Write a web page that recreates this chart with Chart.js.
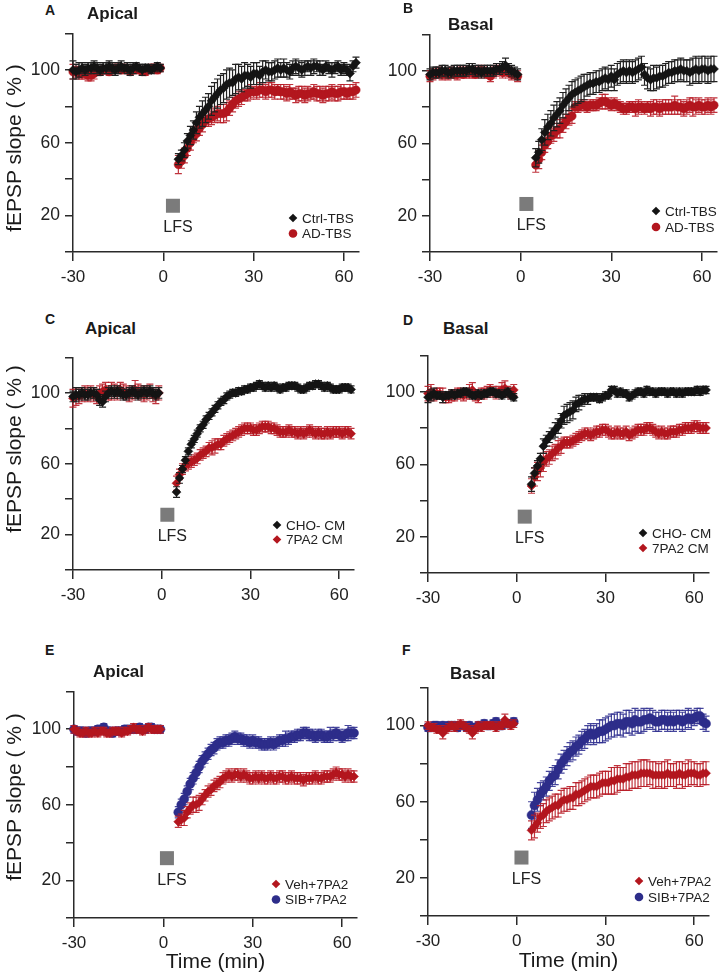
<!DOCTYPE html>
<html>
<head>
<meta charset="utf-8">
<script src="https://cdn.jsdelivr.net/npm/chart.js@4.4.1/dist/chart.umd.min.js"></script>
<style>
body { margin: 0; background: #fff; }
#fig { position: relative; width: 719px; height: 976px; overflow: hidden; font-family: "Liberation Sans", Arial, sans-serif; color: #1a1a1a; }
#fig canvas { position: absolute; }
.tag { position: absolute; font-weight: bold; font-size: 14px; line-height: 1; }
.sub { position: absolute; font-weight: bold; font-size: 17px; line-height: 1; }
.ytitle { position: absolute; font-size: 21px; line-height: 1; white-space: nowrap; transform: translate(-50%, -50%) rotate(-90deg); }
</style>
</head>
<body>
<div id="fig">
  <canvas id="pA" width="366" height="274" style="left:3px;top:18px"></canvas>
  <canvas id="pB" width="367" height="273" style="left:360px;top:19px"></canvas>
  <canvas id="pC" width="361" height="268" style="left:3px;top:342px"></canvas>
  <canvas id="pD" width="361" height="273" style="left:358px;top:340px"></canvas>
  <canvas id="pE" width="363" height="299" style="left:4px;top:676px"></canvas>
  <canvas id="pF" width="361" height="302" style="left:358px;top:672px"></canvas>

  <div class="tag" style="left:45px;top:3px">A</div>
  <div class="sub" style="left:87px;top:5px">Apical</div>
  <div class="tag" style="left:403px;top:1px">B</div>
  <div class="sub" style="left:448px;top:16px">Basal</div>
  <div class="tag" style="left:45px;top:312px">C</div>
  <div class="sub" style="left:85px;top:320px">Apical</div>
  <div class="tag" style="left:403px;top:313px">D</div>
  <div class="sub" style="left:443px;top:320px">Basal</div>
  <div class="tag" style="left:45px;top:643px">E</div>
  <div class="sub" style="left:93px;top:663px">Apical</div>
  <div class="tag" style="left:402px;top:643px">F</div>
  <div class="sub" style="left:450px;top:665px">Basal</div>

  <div class="ytitle" style="left:13px;top:148px">fEPSP slope ( % )</div>
  <div class="ytitle" style="left:13px;top:449px">fEPSP slope ( % )</div>
  <div class="ytitle" style="left:13px;top:797px">fEPSP slope ( % )</div>
</div>
<script>
// time points (min): baseline, then after LFS
const times = [-30,-29,-28,-27,-26,-25,-24,-23,-22,-21, -20,-19,-18,-17,-16,-15,-14,-13,-12,-11, -10,-9,-8,-7,-6,-5,-4,-3,-2,-1,
  5,6,7,8,9,10,11,12,13,14, 15,16,17,18,19,20,21,22,23,24, 25,26,27,28,29,30,31,32,33,34,
  35,36,37,38,39,40,41,42,43,44, 45,46,47,48,49,50,51,52,53,54, 55,56,57,58,59,60,61,62,63,64];

const xTicks = [-30, 0, 30, 60];
const yTickLabels = [20, 60, 100];

// A - apical
const aCtrl = [100,99,100,101,100,101,101,102,101,100, 101,101,102,101,100,101,102,101,101,100, 101,102,101,100,101,101,100,101,102,101,
  51,53,56,61,64,67,71,74,76,78, 80,83,85,87,89,90,92,93,93,95, 96,95,97,97,96,98,98,97,99,100,
  99,99,100,101,100,101,100,99,101,102, 101,100,101,102,101,102,102,101,100,102, 101,100,101,102,100,101,100,98,102,104];
const aCtrlErr = [5,4,4,3,3,3,3,3,3,3, 3,3,3,3,3,3,3,2,3,3, 3,2,2,3,2,2,2,2,2,2,
  3,3,4,4,5,5,6,6,7,7, 7,8,8,8,8,8,8,8,7,8, 7,7,7,6,6,6,6,5,6,5,
  5,5,5,5,4,5,4,4,4,4, 4,4,4,3,4,4,3,4,3,3, 3,4,3,3,3,3,3,4,3,3];
const aAD = [99,99,98,98,98,97,97,98,99,99, 100,100,99,100,101,101,100,101,100,99, 100,101,100,99,99,100,101,101,100,101,
  48,50,53,57,60,63,65,68,70,72, 73,74,75,76,76,76,77,79,81,83, 84,85,86,87,88,88,88,89,89,88,
  89,89,88,89,88,88,87,88,87,86, 87,87,86,87,87,88,87,87,86,87, 87,88,87,87,88,88,87,88,88,89];
const aADErr = [4,3,3,3,3,3,3,3,2,2, 2,2,2,2,2,2,2,2,2,2, 2,2,2,2,2,2,2,2,2,2,
  5,4,4,4,4,3,4,4,4,3, 4,4,4,4,5,5,5,4,4,4, 4,4,3,4,4,3,4,4,4,4,
  4,4,4,3,4,4,4,4,3,4, 4,4,4,4,3,4,4,4,4,4, 4,4,4,4,4,4,3,4,4,4];

// B - basal
const bCtrl = [98,99,99,99,100,100,99,99,100,100, 100,100,100,101,101,100,100,99,100,100, 100,100,101,101,102,103,101,100,99,98,
  52,55,62,66,69,71,74,76,78,81, 83,85,87,88,89,90,91,92,93,93, 94,94,95,96,95,97,95,98,99,100,
  99,100,99,100,101,102,98,96,95,96, 96,97,97,98,99,99,100,100,101,100, 100,99,100,101,100,101,101,100,101,101];
const bCtrlErr = [3,3,3,3,3,3,3,3,3,3, 3,3,3,3,3,3,3,3,3,3, 3,3,3,3,3,4,3,3,3,3,
  5,6,6,7,7,7,7,7,7,7, 7,7,7,7,7,7,7,6,6,6, 6,6,6,6,6,6,6,6,6,6,
  6,6,6,6,6,6,6,6,6,7, 6,6,6,6,6,6,6,6,6,6, 6,7,7,7,7,7,7,7,7,7];
const bAD = [97,98,98,99,98,98,98,99,98,98, 99,98,99,99,99,98,99,100,99,98, 97,99,100,100,99,100,99,98,98,97,
  48,51,55,59,61,64,65,67,68,70, 72,74,75,80,80,81,81,80,81,81, 81,82,83,83,82,81,82,81,80,79,
  79,80,80,79,80,80,79,80,79,80, 80,79,80,80,80,80,81,80,80,79, 80,81,80,80,81,80,80,81,80,81];
const bADErr = [3,3,2,3,3,2,3,3,2,3, 3,2,3,3,3,2,3,3,3,2, 3,3,3,2,3,3,3,3,2,3,
  4,5,4,4,4,4,4,4,5,4, 4,4,4,3,3,3,3,3,3,3, 3,3,4,4,3,3,3,3,3,3,
  3,3,3,4,4,3,3,3,4,4, 4,4,4,4,4,4,5,4,4,4, 4,4,5,4,4,4,4,4,4,4];

// C - apical
const cCHO = [98,99,99,100,99,99,100,100,99,96, 95,98,100,101,100,101,100,99,99,100, 101,100,99,100,101,100,101,100,99,100,
  44,52,57,62,67,71,74,77,80,82, 85,87,89,91,93,95,96,98,99,100, 100,101,101,102,102,103,103,104,105,104,
  103,104,103,104,103,102,103,103,104,104, 104,103,102,102,103,104,104,105,105,104, 103,104,103,102,102,102,103,103,103,102];
const cCHOErr = [3,4,3,3,3,3,3,3,3,3, 3,3,3,3,3,3,3,3,3,3, 3,3,3,3,3,3,3,3,3,3,
  3,3,2,2,2,2,2,2,2,2, 2,2,2,2,2,2,2,2,2,2, 2,2,2,2,2,2,2,2,2,2,
  2,2,2,2,2,2,2,2,2,2, 2,2,2,2,2,2,2,2,2,2, 2,2,2,2,2,2,2,2,2,2];
const c7PA2 = [97,98,98,99,100,99,100,99,98,100, 101,102,100,101,101,100,102,101,100,99, 100,102,101,100,99,100,101,99,98,100,
  49,54,57,59,60,61,62,63,65,66, 67,69,69,70,71,71,73,74,75,76, 77,78,79,80,80,80,79,79,80,81,
  81,81,80,80,79,78,78,78,79,78, 78,77,78,77,78,79,78,77,78,77, 77,78,77,78,78,78,77,78,78,77];
const c7PA2Err = [5,5,4,4,4,4,4,4,4,4, 4,4,4,5,4,4,4,4,4,4, 4,5,4,4,4,4,4,4,4,4,
  4,3,3,3,3,3,3,3,3,3, 3,3,4,4,3,3,3,3,3,3, 3,3,3,3,3,3,3,3,3,3,
  3,3,3,3,3,3,3,3,3,3, 3,3,3,3,3,3,3,3,3,3, 3,3,3,3,3,3,3,3,3,3];

// D - basal
const dCHO = [97,98,99,98,98,97,98,98,99,98, 99,99,100,100,99,98,98,99,98,99, 99,100,100,99,99,98,99,100,98,97,
  49,55,59,63,70,73,75,77,79,81, 84,87,88,89,90,93,94,95,96,96, 97,97,97,96,97,98,98,101,101,99,
  100,99,99,97,98,99,100,100,99,101, 100,100,99,100,100,100,99,100,100,99, 100,99,100,100,100,100,101,100,101,101];
const dCHOErr = [3,3,3,2,2,3,2,2,2,2, 2,2,2,2,2,2,2,2,2,2, 2,2,2,2,2,2,2,2,2,2,
  4,3,3,3,4,3,3,3,4,4, 4,5,5,5,5,4,4,3,3,3, 2,2,2,2,2,2,2,2,2,2,
  2,2,2,2,2,2,2,2,2,2, 2,2,2,2,2,2,2,2,2,2, 2,2,2,2,2,2,2,2,2,2];
const d7PA2 = [99,100,98,99,99,98,97,97,98,98, 99,99,98,99,100,101,98,97,99,99, 100,101,100,99,100,101,102,100,99,101,
  48,53,56,58,61,63,64,66,67,69, 70,72,72,72,73,74,75,76,77,77, 76,77,78,78,79,79,78,77,77,78,
  77,77,78,76,77,78,79,79,79,80, 80,79,78,77,78,77,77,78,78,78, 79,79,80,80,80,81,81,80,80,80];
const d7PA2Err = [4,4,3,3,3,4,3,3,3,3, 3,3,3,3,4,4,3,3,3,3, 3,3,3,3,3,4,4,3,3,3,
  4,5,5,5,5,4,4,4,4,4, 4,3,3,3,3,3,3,3,3,3, 3,3,3,3,3,3,3,3,3,3,
  3,3,3,3,3,3,3,3,3,3, 3,3,3,3,3,3,3,3,3,3, 3,3,3,3,3,3,3,3,3,3];

// E - apical
const eVeh = [100,99,98,98,99,98,98,99,98,99, 99,98,98,99,99,99,98,99,99,100, 101,100,100,99,100,101,100,100,100,100,
  51,52,53,56,58,60,60,61,63,65, 67,68,70,71,72,74,75,76,75,76, 76,75,76,75,74,74,75,74,75,74,
  74,75,74,74,75,75,74,74,75,74, 74,74,73,74,74,74,75,74,74,75, 75,75,76,77,76,76,75,76,75,75];
const eVehErr = [2,2,2,2,2,2,2,2,2,2, 2,2,2,2,2,2,2,2,2,2, 2,2,2,2,2,2,2,2,2,2,
  3,3,4,3,3,4,4,4,3,3, 3,3,3,3,3,3,3,3,3,3, 3,3,3,3,3,3,3,3,3,3,
  3,3,3,3,3,3,3,3,3,3, 3,3,3,3,3,3,3,3,3,3, 3,3,3,3,3,3,3,3,3,3];
const eSIB = [100,99,99,99,98,99,99,99,100,100, 101,99,99,98,99,99,99,100,100,100, 100,100,101,100,100,101,101,100,100,100,
  56,60,63,67,71,74,77,80,83,85, 87,89,90,92,93,93,94,94,95,96, 95,95,94,94,93,94,93,93,92,92,
  92,93,92,93,94,94,95,95,96,96, 97,97,98,98,97,97,96,97,97,96, 96,97,97,98,97,96,97,98,98,98];
const eSIBErr = [2,2,2,2,2,2,2,2,2,2, 2,2,2,2,2,2,2,2,2,2, 2,2,2,2,2,2,2,2,2,2,
  3,3,3,3,3,3,3,3,3,3, 3,3,3,3,3,3,3,3,3,3, 3,3,3,3,3,3,3,3,3,3,
  3,3,3,3,3,3,4,3,3,3, 3,3,3,3,3,3,3,3,3,3, 3,4,3,3,3,3,3,4,3,3];

// F - basal
const fVeh = [100,99,99,98,98,96,98,99,100,99, 100,101,100,99,98,96,98,100,99,100, 100,100,100,99,100,100,103,101,100,101,
  45,47,49,52,53,55,56,57,58,58, 60,61,61,62,62,64,64,65,66,67, 68,68,68,69,70,70,70,71,71,72,
  72,72,73,73,74,74,74,75,75,75, 75,74,74,74,74,74,75,74,74,74, 75,74,74,75,75,75,74,74,75,75];
const fVehErr = [2,2,2,2,2,3,2,2,2,2, 2,2,2,2,2,3,2,2,2,2, 2,2,2,2,2,2,3,2,2,2,
  5,6,5,6,6,6,6,6,6,6, 6,6,6,6,6,6,6,6,6,6, 6,6,6,6,6,6,6,7,7,7,
  6,6,7,7,7,7,7,7,7,7, 6,7,7,6,7,7,7,6,6,7, 6,7,6,7,6,6,6,6,6,6];
const fSIB = [99,99,100,100,99,100,99,100,100,100, 99,100,100,99,100,99,99,100,100,101, 100,100,101,102,100,100,101,101,101,102,
  53,58,61,64,66,68,71,73,74,77, 80,82,84,86,87,89,90,92,93,95, 96,95,96,97,97,98,99,100,100,101,
  101,100,102,102,101,103,102,102,103,103, 104,103,102,102,103,103,102,103,102,103, 103,102,103,104,103,104,105,105,102,101];
const fSIBErr = [2,2,2,2,2,2,2,2,2,2, 2,2,2,2,2,2,2,2,2,2, 2,2,2,2,2,2,2,2,2,2,
  7,7,6,6,5,5,5,5,5,5, 5,5,5,5,5,5,5,5,5,5, 5,5,5,6,6,6,6,6,6,6,
  6,6,6,6,6,6,6,6,6,5, 5,5,5,5,5,5,5,5,5,5, 5,5,5,5,5,4,4,4,4,4];

// LFS marker position per panel (time, level), A..F
const lfsTime = [3.2, 1.9, 1.9, 2.7, 1.2, 1.6];
const lfsLevel = [25.4, 26.5, 31.2, 31.1, 31.7, 30.7];

const RED = '#b3161e', BLACK = '#141414', BLUE = '#2d2d8a';
const FONT = '"Liberation Sans", Arial, sans-serif';
const AXIS = '#2a2a2a';

const errorBars = {
  id: 'errorBars',
  beforeDatasetDraw(chart, args) {
    const ds = chart.data.datasets[args.index];
    const y = chart.scales.y;
    const ctx = chart.ctx;
    ctx.save();
    ctx.strokeStyle = ds.errColor;
    ctx.lineWidth = 1.2;
    args.meta.data.forEach((pt, i) => {
      const v = ds.data[i].y, e = ds.err[i];
      const top = y.getPixelForValue(v + e), bot = y.getPixelForValue(v - e);
      ctx.beginPath();
      ctx.moveTo(pt.x, top); ctx.lineTo(pt.x, bot);
      ctx.moveTo(pt.x - 3.5, top); ctx.lineTo(pt.x + 3.5, top);
      ctx.moveTo(pt.x - 3.5, bot); ctx.lineTo(pt.x + 3.5, bot);
      ctx.stroke();
    });
    ctx.restore();
  }
};

const extras = {
  id: 'extras',
  afterDraw(chart, args, o) {
    const {ctx, chartArea: a} = chart;
    const x = chart.scales.x, y = chart.scales.y;
    ctx.save();
    // LFS box + label
    const sx = x.getPixelForValue(o.lfsX), sy = y.getPixelForValue(o.lfsY);
    ctx.fillStyle = '#7b7b7b';
    ctx.fillRect(sx - 7, sy - 7, 14, 14);
    ctx.fillStyle = '#222';
    ctx.font = '16px ' + FONT;
    ctx.textAlign = 'center';
    ctx.textBaseline = 'middle';
    ctx.fillText('LFS', sx + 5, sy + 22);
    // legend
    ctx.textAlign = 'left';
    ctx.font = '13.5px ' + FONT;
    chart.data.datasets.forEach((ds, i) => {
      const mx = a.right - o.leg[0], my = a.bottom - o.leg[1] + i * o.leg[2];
      ctx.fillStyle = ds.backgroundColor;
      ctx.beginPath();
      if (ds.pointStyle === 'circle') {
        ctx.arc(mx, my, 4.3, 0, Math.PI * 2);
      } else {
        ctx.moveTo(mx, my - 4.3); ctx.lineTo(mx + 4.3, my); ctx.lineTo(mx, my + 4.3); ctx.lineTo(mx - 4.3, my);
        ctx.closePath();
      }
      ctx.fill();
      ctx.fillStyle = '#222';
      ctx.fillText(ds.label, mx + 9, my + 1);
    });
    ctx.restore();
  }
};

function panel(id, k, sets, o) {
  new Chart(document.getElementById(id), {
    type: 'scatter',
    data: {
      datasets: sets.map(s => ({
        label: s.label,
        data: times.map((t, i) => ({x: t, y: s.values[i]})),
        err: s.err,
        errColor: s.errColor,
        backgroundColor: s.color,
        borderColor: s.color,
        pointStyle: s.shape,
        pointRadius: s.shape === 'circle' ? (o.circleR || 4.2) : 4.5,
        pointBorderWidth: 0.5,
        clip: false
      }))
    },
    options: {
      responsive: false,
      animation: false,
      events: [],
      layout: {padding: {top: 10, right: 10, left: 0, bottom: 0}},
      plugins: {
        legend: {display: false},
        tooltip: {enabled: false},
        extras: {lfsX: lfsTime[k], lfsY: lfsLevel[k], leg: o.leg}
      },
      scales: {
        x: {
          type: 'linear', min: -30, max: 65,
          afterBuildTicks: sc => { sc.ticks = xTicks.map(v => ({value: v})); },
          afterFit: sc => { sc.height = o.hx; },
          ticks: {font: {family: FONT, size: 17}, color: '#222', padding: 6, maxRotation: 0},
          grid: {drawOnChartArea: false, drawTicks: true, tickLength: 9, color: AXIS, lineWidth: 1.5},
          border: {display: true, color: AXIS, width: 1.5},
          title: {display: !!o.xTitle, text: 'Time (min)', font: {family: FONT, size: 21}, color: '#1a1a1a', padding: 0}
        },
        y: {
          min: 0, max: 120,
          afterFit: sc => { sc.width = 70; },
          ticks: {stepSize: 20, font: {family: FONT, size: 17.5}, color: '#222', padding: 5,
            callback: v => yTickLabels.includes(v) ? String(v) : ''},
          grid: {drawOnChartArea: false, drawTicks: true, tickLength: 8, color: AXIS, lineWidth: 1.5},
          border: {display: true, color: AXIS, width: 1.5}
        }
      }
    },
    plugins: [errorBars, extras]
  });
}

const redErr = 'rgba(185,30,40,0.9)', blackErr = '#222', blueErr = 'rgba(50,50,145,0.9)';

panel('pA', 0, [
  {label: 'Ctrl-TBS', values: aCtrl, err: aCtrlErr, color: BLACK, errColor: blackErr, shape: 'rectRot'},
  {label: 'AD-TBS', values: aAD, err: aADErr, color: RED, errColor: redErr, shape: 'circle'}
], {hx: 40, leg: [66, 34, 15.5]});

panel('pB', 1, [
  {label: 'Ctrl-TBS', values: bCtrl, err: bCtrlErr, color: BLACK, errColor: blackErr, shape: 'rectRot'},
  {label: 'AD-TBS', values: bAD, err: bADErr, color: RED, errColor: redErr, shape: 'circle'}
], {hx: 40, leg: [61, 41, 16]});

panel('pC', 2, [
  {label: 'CHO- CM', values: cCHO, err: cCHOErr, color: BLACK, errColor: blackErr, shape: 'rectRot'},
  {label: '7PA2 CM', values: c7PA2, err: c7PA2Err, color: RED, errColor: redErr, shape: 'rectRot'}
], {hx: 40, leg: [77, 45, 14.5]});

panel('pD', 3, [
  {label: 'CHO- CM', values: dCHO, err: dCHOErr, color: BLACK, errColor: blackErr, shape: 'rectRot'},
  {label: '7PA2 CM', values: d7PA2, err: d7PA2Err, color: RED, errColor: redErr, shape: 'rectRot'}
], {hx: 40, leg: [66, 40, 15]});

panel('pE', 4, [
  {label: 'Veh+7PA2', values: eVeh, err: eVehErr, color: RED, errColor: redErr, shape: 'rectRot'},
  {label: 'SIB+7PA2', values: eSIB, err: eSIBErr, color: BLUE, errColor: blueErr, shape: 'circle'}
], {hx: 57, xTitle: true, circleR: 4.5, leg: [81, 34, 15.5]});

panel('pF', 5, [
  {label: 'Veh+7PA2', values: fVeh, err: fVehErr, color: RED, errColor: redErr, shape: 'rectRot'},
  {label: 'SIB+7PA2', values: fSIB, err: fSIBErr, color: BLUE, errColor: blueErr, shape: 'circle'}
], {hx: 58, xTitle: true, circleR: 4.5, leg: [70, 35, 16]});
</script>
</body>
</html>
